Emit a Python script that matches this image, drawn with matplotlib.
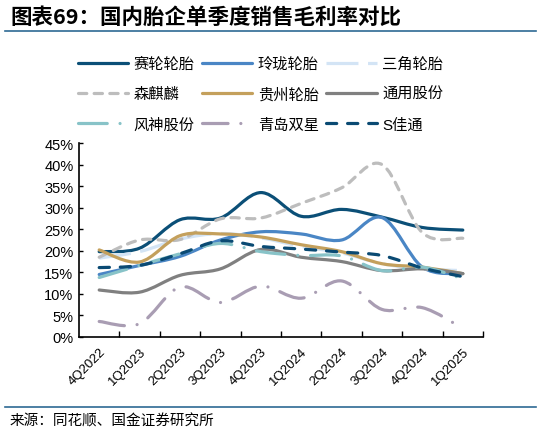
import matplotlib
matplotlib.use('Agg')
import matplotlib.pyplot as plt
from matplotlib.path import Path
from matplotlib.patches import PathPatch
from matplotlib.lines import Line2D
import numpy as np

plt.rcParams['font.family'] = ['Liberation Sans', 'Noto Sans CJK SC', 'DejaVu Sans']

quarters = ['4Q2022', '1Q2023', '2Q2023', '3Q2023', '4Q2023',
            '1Q2024', '2Q2024', '3Q2024', '4Q2024', '1Q2025']

# gross margin, %
sailun = [19.8, 20.6, 27.2, 27.6, 33.5, 28.0, 29.6, 27.8, 25.4, 24.8]
linglong = [14.5, 16.6, 18.7, 22.5, 24.4, 23.9, 22.5, 27.7, 16.2, 14.7]
sanjiao = [18.3, 19.8, 22.7, 24.0, 23.0, 21.0, 19.5, 17.0, 15.8, 15.4]
senqilin = [18.5, 22.5, 22.6, 27.4, 27.6, 31.0, 34.6, 40.0, 24.2, 22.9]
guizhou = [20.2, 17.4, 23.5, 23.9, 23.2, 21.4, 19.8, 17.0, 16.2, 14.7]
tongyong = [10.9, 10.4, 14.3, 15.8, 20.3, 18.5, 17.5, 15.4, 15.8, 14.7]
fengshen = [13.8, 16.6, 19.3, 21.7, 19.8, 18.9, 18.8, 15.4, 16.2, 13.5]
qingdao = [3.6, 3.1, 11.6, 8.0, 11.8, 9.0, 13.0, 6.4, 6.8, 2.0]
jiatong = [16.1, 16.6, 19.3, 22.3, 21.0, 20.4, 19.7, 18.9, 16.0, 14.0]

names = ['赛轮轮胎', '玲珑轮胎', '三角轮胎', '森麒麟', '贵州轮胎', '通用股份',
         '风神股份', '青岛双星', 'S佳通']
series = [sailun, linglong, sanjiao, senqilin, guizhou, tongyong,
          fengshen, qingdao, jiatong]
colors = ['#0B4F77', '#4A86C5', '#D3E4F5', '#BDBDBD', '#C4A05C', '#808080',
          '#88C3C8', '#A99DB3', '#0A4A73']
styles = ['-', '-', (0, (10, 3)), (0, (2.6, 2.3)), '-', '-',
          (0, (9, 4, 0.01, 4)), (0, (8, 4, 0.01, 4)), (0, (3.2, 3.4))]
caps = ['round', 'round', 'butt', 'round', 'round', 'round',
        'round', 'round', 'round']
lw = 2.3


def smooth_path(y):
    # excel-like smoothed line: cubic bezier through every point
    x = np.arange(len(y), dtype=float)
    y = np.array(y, dtype=float) / 100
    pts = np.column_stack([x, y])
    verts = [pts[0]]
    codes = [Path.MOVETO]
    n = len(pts)
    for i in range(n - 1):
        p0 = pts[max(i - 1, 0)]
        p1 = pts[i]
        p2 = pts[i + 1]
        p3 = pts[min(i + 2, n - 1)]
        c1 = p1 + (p2 - p0) / 6
        c2 = p2 - (p3 - p1) / 6
        verts += [c1, c2, p2]
        codes += [Path.CURVE4] * 3
    return Path(verts, codes)


fig = plt.figure(figsize=(5.41, 4.35), dpi=100)
ax = fig.add_axes([79 / 541, 97 / 435, 404 / 541, 194 / 435])

for s, c, ls, cap in zip(series, colors, styles, caps):
    ax.add_patch(PathPatch(smooth_path(s), fill=False, edgecolor=c, lw=lw,
                           linestyle=ls, capstyle=cap, joinstyle='round'))

ax.set_xlim(-0.5, len(quarters) - 0.5)
ax.set_ylim(0, 0.45)
ax.set_yticks(np.arange(0, 0.451, 0.05))
ax.set_yticklabels(['%d%%' % v for v in range(0, 46, 5)], fontsize=10.5)
ax.tick_params(axis='y', direction='in', length=3, width=1, pad=4)

ax.set_xticks(np.arange(len(quarters)) + 0.5)
ax.set_xticklabels([])
ax.tick_params(axis='x', which='major', direction='in', length=4, width=1)
ax.set_xticks(np.arange(len(quarters)), minor=True)
ax.set_xticklabels(quarters, minor=True, rotation=45, ha='right', va='top',
                   rotation_mode='anchor', fontsize=9.5)
ax.tick_params(axis='x', which='minor', length=0, pad=6)

for side in ['top', 'right']:
    ax.spines[side].set_visible(False)
for side in ['left', 'bottom']:
    ax.spines[side].set_linewidth(1.2)

handles = [Line2D([], [], color=c, lw=lw, linestyle=ls, solid_capstyle=cap,
                  dash_capstyle=cap)
           for c, ls, cap in zip(colors, styles, caps)]
order = [0, 3, 6, 1, 4, 7, 2, 5, 8]
fig.legend([handles[i] for i in order], [names[i] for i in order],
           loc='upper left', bbox_to_anchor=(70 / 541, 1 - 50 / 435), ncol=3,
           frameon=False, fontsize=11, handlelength=3.3, handletextpad=0.35,
           columnspacing=0.5, labelspacing=1.05, borderpad=0)

fig.text(10 / 541, 1 - 17 / 435, '图表69：国内胎企单季度销售毛利率对比',
         fontsize=15.5, fontweight='bold', va='center', ha='left',
         family=['Noto Sans CJK SC', 'DejaVu Sans'])
fig.add_artist(Line2D([5 / 541, 536 / 541], [1 - 32 / 435, 1 - 32 / 435],
                      color='#2E6A94', lw=1.2))
fig.add_artist(Line2D([5 / 541, 536 / 541], [1 - 407.5 / 435, 1 - 407.5 / 435],
                      color='#2E6A94', lw=1.2))
fig.text(10 / 541, 1 - 421 / 435, '来源：同花顺、国金证券研究所',
         fontsize=10.5, va='center', ha='left',
         family=['Noto Sans CJK SC', 'DejaVu Sans'])

fig.savefig('out.png', dpi=100)
